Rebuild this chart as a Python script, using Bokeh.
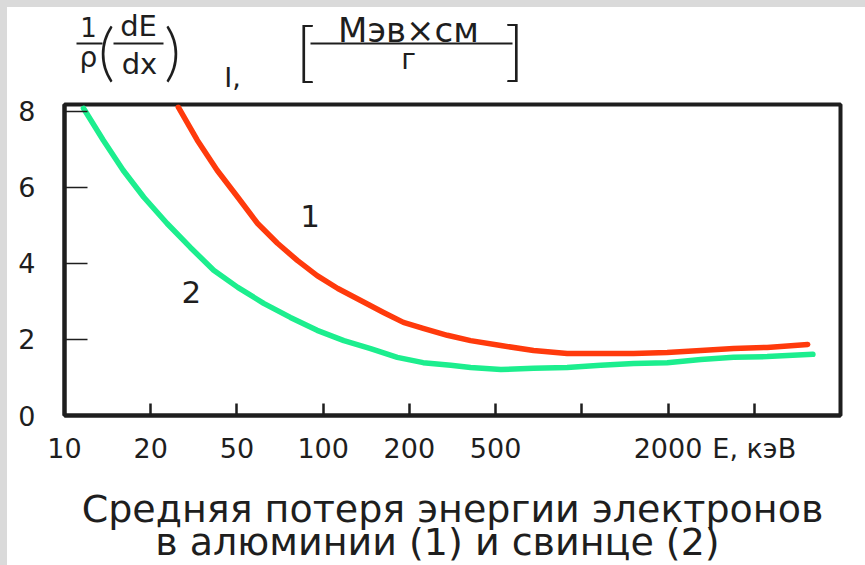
from bokeh.plotting import figure
from bokeh.models import Label, FixedTicker, Range1d, Spacer
from bokeh.layouts import column, row
from bokeh.embed import file_html
from bokeh.resources import INLINE

# Positions on the (evenly spaced) printed energy scale: 0 -> 10 keV, 1 -> 20, 2 -> 50, ...
energy_ticks = [0, 1, 2, 3, 4, 5, 6, 7, 8]
energy_labels = ["10", "20", "50", "100", "200", "500", "", "2000", "E, кэВ"]
loss_ticks = [0, 2, 4, 6, 8]

# Curve 1: aluminium
al_pos = [1.32, 1.54, 1.77, 2.01, 2.24, 2.47, 2.70, 2.93, 3.17, 3.43, 3.70, 3.93, 4.16,
          4.44, 4.71, 5.06, 5.44, 5.83, 6.22, 6.60, 6.99, 7.38, 7.76, 8.15, 8.62]
al_loss = [8.11, 7.24, 6.45, 5.74, 5.05, 4.53, 4.08, 3.68, 3.34, 3.03, 2.71, 2.45, 2.29,
           2.11, 1.97, 1.84, 1.71, 1.63, 1.63, 1.63, 1.66, 1.71, 1.76, 1.79, 1.87]

# Curve 2: lead
pb_pos = [0.22, 0.45, 0.68, 0.92, 1.19, 1.46, 1.73, 2.01, 2.31, 2.62, 2.93, 3.24, 3.55,
          3.86, 4.16, 4.48, 4.71, 5.06, 5.44, 5.83, 6.22, 6.60, 6.99, 7.38, 7.76, 8.15, 8.68]
pb_loss = [8.08, 7.24, 6.45, 5.74, 5.05, 4.42, 3.82, 3.37, 2.95, 2.58, 2.24, 1.97, 1.76,
           1.53, 1.39, 1.32, 1.26, 1.21, 1.24, 1.26, 1.32, 1.37, 1.39, 1.47, 1.53, 1.55, 1.61]

RED = "#ff3a0c"
GREEN = "#1cee8e"
INK = "#1e1e1e"
GRAY = "#dadada"
FONT = "DejaVu Sans"

W = 858          # width of the white area (page x 7..865)
H_HEAD, H_MAIN, H_CAP = 89, 384, 85


def bare(height, y0, y1):
    f = figure(width=W, height=height, output_backend="svg", toolbar_location=None,
               x_range=Range1d(7, 865), y_range=Range1d(y1, y0),
               x_axis_type=None, y_axis_type=None, min_border=0)
    f.frame_align = False
    f.outline_line_color = None
    f.grid.grid_line_color = None
    f.background_fill_color = "white"
    f.border_fill_color = "white"
    return f


def lab(f, text, x, y, size, font=FONT, align="center"):
    f.add_layout(Label(x=x, y=y, text=text, text_font=font, text_font_size=size,
                       text_align=align, text_baseline="middle", text_color=INK))


# ---------------- main chart ----------------
p = figure(width=W, height=H_MAIN, output_backend="svg", toolbar_location=None,
           x_range=Range1d(0, 9), y_range=Range1d(0, 8.18),
           min_border_left=57, min_border_right=25, min_border_top=8, min_border_bottom=65)
p.frame_align = False
p.background_fill_color = "white"
p.border_fill_color = "white"
p.outline_line_color = INK
p.outline_line_width = 4
p.grid.grid_line_color = None

xa = p.xaxis[0]
xa.ticker = FixedTicker(ticks=energy_ticks)
xa.major_label_overrides = {t: l for t, l in zip(energy_ticks, energy_labels)}
xa.minor_tick_line_color = None
xa.major_tick_in = 12
xa.major_tick_out = 0
xa.major_tick_line_width = 2.5
xa.major_tick_line_color = INK
xa.axis_line_width = 4
xa.axis_line_color = INK
xa.major_label_standoff = 17
xa.major_label_text_font = FONT
xa.major_label_text_font_size = "27px"
xa.major_label_text_color = INK

ya = p.yaxis[0]
ya.ticker = FixedTicker(ticks=loss_ticks)
ya.minor_tick_line_color = None
ya.major_tick_in = 23
ya.major_tick_out = 0
ya.major_tick_line_width = 1.5
ya.major_tick_line_color = INK
ya.axis_line_width = 4
ya.axis_line_color = INK
ya.major_label_standoff = 29
ya.major_label_text_font = FONT
ya.major_label_text_font_size = "27px"
ya.major_label_text_color = INK

p.line(al_pos, al_loss, line_color=RED, line_width=5.5, line_join="round", line_cap="round")
p.line(pb_pos, pb_loss, line_color=GREEN, line_width=5.5, line_join="round", line_cap="round")

p.add_layout(Label(x=2.85, y=5.24, text="1", text_font=FONT, text_font_size="31px",
                   text_align="center", text_baseline="middle", text_color=INK))
p.add_layout(Label(x=1.47, y=3.26, text="2", text_font=FONT, text_font_size="31px",
                   text_align="center", text_baseline="middle", text_color=INK))

# ---------------- header: 1/rho (dE/dx)_I, [MeV*cm / g] (page pixel coordinates) ----------------
hd = bare(H_HEAD, 7, 96)
lab(hd, "1", 88, 26, "26px")
lab(hd, "ρ", 88, 57, "28px")
lab(hd, "(", 106, 49, "64px", font="Lato Light")
lab(hd, "dE", 138, 25, "29px")
lab(hd, "dx", 139, 63, "29px")
lab(hd, ")", 172, 49, "64px", font="Lato Light")
lab(hd, "I,", 232, 77, "27px")
lab(hd, "[", 305, 48, "66px", font="Lato Light")
lab(hd, "Мэв×см", 408, 29, "34px")
lab(hd, "г", 408, 59, "28px")
lab(hd, "]", 514, 47, "66px", font="Lato Light")
hd.segment(x0=[76, 113, 310], y0=[43, 43, 43], x1=[102, 163, 512], y1=[43, 43, 43],
           line_color=INK, line_width=2)

# ---------------- caption ----------------
cp = bare(H_CAP, 480, 565)
lab(cp, "Средняя потеря энергии электронов", 452, 508, "38px")
lab(cp, "в алюминии (1) и свинце (2)", 437, 541, "38px")

left_strip = Spacer(width=7, height=H_HEAD + H_MAIN + H_CAP + 7, styles={"background-color": GRAY})
top_strip = Spacer(width=W, height=7, styles={"background-color": GRAY})
layout = row(left_strip, column(top_strip, hd, p, cp, spacing=0), spacing=0)

open("out.html", "w").write(file_html(layout, INLINE))
